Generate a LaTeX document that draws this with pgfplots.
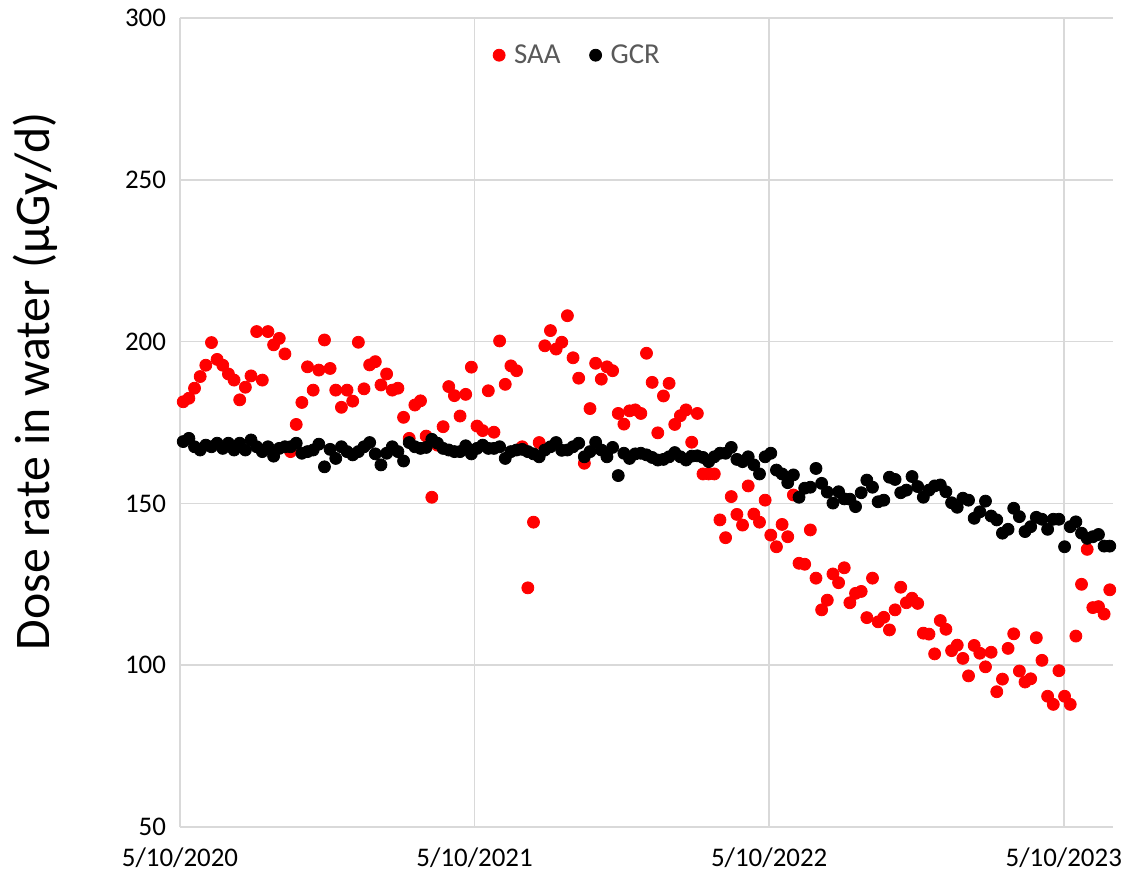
\documentclass[border=0pt]{standalone}
\usepackage{pgfplots}
\usepackage{pgfplotstable}
\pgfplotsset{compat=1.18}
\usepackage{fontspec}
\setmainfont{Carlito}

\definecolor{gridgray}{HTML}{D9D9D9}
\definecolor{legendgray}{HTML}{595959}

% Weekly dose rates: day counted from 5/10/2020
\pgfplotstableread{
day saa gcr
4 181.4 169.1
11 182.5 170.1
18 185.6 167.5
25 189.2 166.5
32 192.7 168.0
39 199.7 167.5
46 194.5 168.6
53 192.7 167.0
60 190.0 168.6
67 188.1 166.5
74 182.0 168.6
81 185.9 166.5
88 189.4 169.6
95 203.1 167.5
102 188.1 166.0
109 203.1 167.5
116 199.0 164.6
123 201.0 167.0
130 196.2 167.5
137 166.0 167.5
144 174.4 168.6
151 181.2 165.5
158 192.2 166.0
165 185.0 166.5
172 191.2 168.3
179 200.5 161.3
186 191.7 166.7
193 185.0 163.9
200 179.7 167.5
207 185.0 166.0
214 181.6 165.0
221 199.8 166.0
228 185.4 167.5
235 192.8 168.8
242 193.8 165.3
249 186.6 161.9
256 190.0 165.5
263 185.0 167.5
270 185.6 166.0
277 176.6 163.1
284 170.1 168.8
291 180.4 167.5
298 181.7 167.0
305 170.8 167.3
312 151.9 169.8
319 168.0 168.6
326 173.7 167.0
333 186.1 166.5
340 183.3 166.0
347 177.0 166.0
354 183.7 167.8
361 192.1 165.3
368 173.9 167.0
375 172.5 168.0
382 184.8 167.0
389 172.0 167.0
396 200.2 167.5
403 186.8 163.9
410 192.5 166.0
417 191.0 166.5
424 167.5 166.7
431 123.9 166.0
438 144.2 165.3
445 168.8 164.4
452 198.7 166.5
459 203.4 167.5
466 197.7 168.8
473 199.8 166.4
480 208.0 166.5
487 195.0 167.5
494 188.7 168.6
501 162.4 164.4
508 179.3 166.0
515 193.3 168.9
522 188.4 166.5
529 192.2 164.4
536 191.0 167.3
543 177.8 158.6
550 174.5 165.5
557 178.6 163.9
564 178.9 165.3
571 177.8 165.5
578 196.4 165.0
585 187.4 164.2
592 171.8 163.4
599 183.2 163.6
606 187.1 164.4
613 174.4 165.7
620 177.1 164.4
627 178.9 163.4
634 168.9 164.6
641 177.8 164.7
648 159.1 164.2
655 159.1 162.9
662 159.1 164.4
669 144.9 165.5
676 139.4 165.5
683 152.1 167.3
690 146.6 163.6
697 143.3 162.9
704 155.4 164.4
711 146.7 161.9
718 144.2 159.1
725 151.0 164.4
732 140.2 165.5
739 136.6 160.3
746 143.5 159.1
753 139.7 156.4
760 152.6 158.8
767 131.5 151.9
774 131.2 154.7
781 141.8 155.0
788 126.9 160.8
795 117.1 156.2
802 120.1 153.5
809 128.2 150.1
816 125.5 153.6
823 130.1 151.4
830 119.3 151.3
837 122.2 149.0
844 122.8 153.3
851 114.7 157.2
858 126.9 155.0
865 113.4 150.5
872 114.8 151.0
879 110.9 158.1
886 117.1 157.4
893 124.1 153.3
900 119.3 154.1
907 120.7 158.3
914 119.1 155.2
921 109.9 151.9
928 109.6 154.1
935 103.5 155.4
942 113.8 155.7
949 111.1 153.6
956 104.5 150.2
963 106.2 148.8
970 102.1 151.6
977 96.7 151.0
984 106.1 145.4
991 103.7 147.4
998 99.5 150.7
1005 104.0 146.1
1012 91.8 144.9
1019 95.7 140.8
1026 105.2 142.0
1033 109.7 148.5
1040 98.2 145.9
1047 94.8 141.3
1054 95.8 142.8
1061 108.5 145.7
1068 101.5 145.1
1075 90.4 142.0
1082 87.9 145.1
1089 98.3 145.1
1096 90.4 136.6
1103 87.9 142.8
1110 109.0 144.3
1117 125.0 140.8
1124 135.8 139.2
1131 117.8 139.7
1138 118.1 140.4
1145 115.8 136.8
1152 123.3 136.8
}\doserates

\begin{document}
\begin{tikzpicture}
\begin{axis}[
  at={(0,0)}, anchor=south west,
  scale only axis,
  width=466.5bp, height=404.5bp,
  xmin=0, xmax=1156,
  ymin=50, ymax=300,
  ytick={50,100,150,200,250,300},
  xtick={0,365,730,1095},
  xticklabels={5/10/2020,5/10/2021,5/10/2022,5/10/2023},
  grid=major,
  major grid style={draw=gridgray, line width=0.75bp},
  axis line style={draw=none},
  axis x line*=bottom,
  x axis line style={draw=gridgray, line width=0.75bp},
  tick style={draw=none},
  clip=false,
  /pgf/number format/assume math mode=true,
  ticklabel style={font=\fontsize{13.5}{16}\selectfont, text=black},
  xticklabel style={yshift=-7bp},
  yticklabel style={xshift=-3.5bp},
  ylabel={Dose rate in water (µGy/d)},
  ylabel style={font=\fontsize{25}{28}\selectfont, at={(axis description cs:-0.1554,0.551)}, anchor=center},
  legend columns=2,
  legend style={at={(axis description cs:0.4266,0.954)}, anchor=center,
    draw=none, fill=none, font=\fontsize{14.5}{17}\selectfont, text=legendgray,
    /tikz/every even column/.append style={column sep=12bp}},
  legend cell align=left,
  legend image code/.code={%
    \path[draw=none, fill=none] (-3.5bp,-3bp) rectangle (5.5bp,3bp);
    \draw[#1] plot coordinates {(0bp,0bp)};},
]
\addplot[only marks, mark=*, mark size=3bp, color=red, mark options={draw=red, fill=red}] table[x=day, y=saa] {\doserates};
\addlegendentry{SAA}
\addplot[only marks, mark=*, mark size=3bp, color=black, mark options={draw=black, fill=black}] table[x=day, y=gcr] {\doserates};
\addlegendentry{GCR}
\end{axis}
\pgfresetboundingbox
\path[use as bounding box] (-90bp,-25bp) rectangle (473.5bp,413.5bp);
\end{tikzpicture}
\end{document}
